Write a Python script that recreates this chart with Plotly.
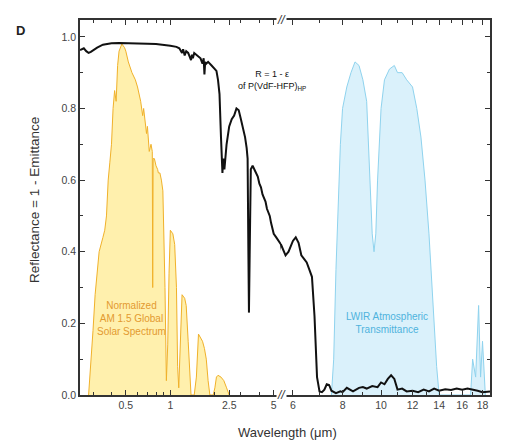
import numpy as np
import plotly.graph_objects as go

# ---------------- data ----------------
# Reflectance (R = 1 - emittance) of P(VdF-HFP)HP coating
refl_wl = [0.245, 0.25, 0.26, 0.27, 0.28, 0.29, 0.30, 0.32, 0.35, 0.40, 0.45, 0.5, 0.6, 0.7, 0.8, 0.9,
           1.0, 1.1, 1.15, 1.2, 1.22, 1.25, 1.28, 1.32, 1.38, 1.40, 1.42, 1.45, 1.5, 1.55, 1.6, 1.65,
           1.68, 1.7, 1.72, 1.75, 1.8, 1.9, 1.95, 2.0, 2.05, 2.1, 2.15, 2.2, 2.25, 2.28, 2.32, 2.4,
           2.5, 2.6, 2.7, 2.8, 2.9, 3.0, 3.1, 3.2, 3.28, 3.33, 3.37, 3.40, 3.44, 3.5, 3.6, 3.7, 3.8,
           3.9, 4.0, 4.1, 4.2, 4.3, 4.4, 4.5, 4.6, 4.7, 4.8, 4.9, 5.0, 5.2, 5.4, 5.6, 5.75, 5.85,
           6.0, 6.1, 6.2, 6.3, 6.4, 6.5, 6.6, 6.7, 6.8, 6.9, 7.0, 7.1, 7.2, 7.3, 7.4, 7.5, 7.7,
           7.9, 8.0, 8.2, 8.5, 8.8, 9.0, 9.2, 9.5, 9.8, 10.0, 10.2, 10.4, 10.6, 10.8, 11.0, 11.3,
           11.6, 12.0, 12.4, 12.8, 13.2, 13.6, 14.0, 14.5, 15.0, 15.5, 16.0, 16.5, 17.0, 17.5,
           18.0, 18.8]
refl_val = [0.963, 0.965, 0.968, 0.96, 0.955, 0.958, 0.962, 0.97, 0.978, 0.982, 0.983, 0.983, 0.982,
            0.981, 0.98, 0.978, 0.975, 0.972, 0.968, 0.955, 0.965, 0.948, 0.96, 0.955, 0.935, 0.95,
            0.94, 0.955, 0.95, 0.945, 0.94, 0.925, 0.94, 0.895, 0.93, 0.925, 0.93, 0.92, 0.915, 0.91,
            0.905, 0.88, 0.84, 0.72, 0.62, 0.66, 0.63, 0.70, 0.75, 0.77, 0.78, 0.80, 0.795, 0.77,
            0.745, 0.72, 0.69, 0.66, 0.40, 0.23, 0.40, 0.63, 0.64, 0.63, 0.62, 0.61, 0.59, 0.58,
            0.56, 0.55, 0.54, 0.52, 0.51, 0.50, 0.48, 0.46, 0.45, 0.44, 0.43, 0.42, 0.39, 0.40,
            0.43, 0.44, 0.425, 0.39, 0.38, 0.37, 0.35, 0.33, 0.22, 0.05, 0.01, 0.008, 0.015, 0.03,
            0.028, 0.012, 0.005, 0.01, 0.008, 0.02, 0.01, 0.02, 0.022, 0.018, 0.025, 0.022, 0.035,
            0.03, 0.045, 0.055, 0.045, 0.015, 0.018, 0.01, 0.012, 0.008, 0.015, 0.01, 0.018, 0.012,
            0.016, 0.014, 0.018, 0.015, 0.018, 0.016, 0.012, 0.008, 0.01]

# Normalized AM 1.5 Global solar spectrum
solar_wl = [0.28, 0.29, 0.30, 0.31, 0.32, 0.33, 0.35, 0.36, 0.37, 0.38, 0.39, 0.40, 0.41, 0.42, 0.43,
            0.44, 0.45, 0.47, 0.49, 0.50, 0.52, 0.55, 0.58, 0.60, 0.63, 0.65, 0.66, 0.69, 0.70, 0.72,
            0.74, 0.755, 0.76, 0.765, 0.78, 0.80, 0.82, 0.83, 0.85, 0.87, 0.89, 0.90, 0.92, 0.94,
            0.96, 0.98, 1.0, 1.04, 1.07, 1.10, 1.12, 1.14, 1.16, 1.20, 1.25, 1.28, 1.32, 1.35, 1.38,
            1.45, 1.5, 1.55, 1.6, 1.65, 1.7, 1.75, 1.8, 1.85, 1.95, 2.0, 2.05, 2.1, 2.2, 2.3, 2.4, 2.5]
solar_val = [0.0, 0.08, 0.18, 0.28, 0.35, 0.40, 0.44, 0.46, 0.50, 0.60, 0.65, 0.70, 0.80, 0.85, 0.82,
             0.92, 0.96, 0.98, 0.97, 0.96, 0.93, 0.90, 0.88, 0.86, 0.82, 0.78, 0.80, 0.73, 0.75, 0.68,
             0.70, 0.68, 0.30, 0.66, 0.66, 0.64, 0.63, 0.62, 0.62, 0.60, 0.57, 0.50, 0.30, 0.04,
             0.14, 0.34, 0.46, 0.45, 0.42, 0.30, 0.08, 0.02, 0.10, 0.28, 0.27, 0.25, 0.15, 0.05,
             0.0, 0.0, 0.05, 0.17, 0.16, 0.15, 0.13, 0.10, 0.04, 0.0, 0.0, 0.02, 0.05, 0.055, 0.05,
             0.04, 0.02, 0.0]

# LWIR atmospheric transmittance
atm_wl = [7.5, 7.6, 7.7, 7.8, 7.9, 8.0, 8.2, 8.4, 8.6, 8.8, 9.0, 9.2, 9.4, 9.5, 9.6, 9.7, 9.8, 10.0,
          10.2, 10.5, 10.8, 11.0, 11.3, 11.6, 12.0, 12.3, 12.6, 12.9, 13.2, 13.5, 13.8, 14.0,
          16.8, 17.0, 17.3, 17.6, 17.8, 18.0, 18.3]
atm_val = [0.0, 0.1, 0.35, 0.55, 0.7, 0.8, 0.86, 0.9, 0.93, 0.92, 0.88, 0.82, 0.6, 0.45, 0.4, 0.45,
           0.6, 0.8, 0.88, 0.91, 0.92, 0.9, 0.9, 0.88, 0.86, 0.8, 0.72, 0.6, 0.45, 0.25, 0.08, 0.0,
           0.0, 0.1, 0.05, 0.25, 0.05, 0.15, 0.0]

seg1_ticks = [0.5, 1, 2.5, 5]
seg1_minor = [0.3, 0.4, 0.6, 0.7, 0.8, 0.9, 2, 3, 4]
seg2_ticks = [6, 8, 10, 12, 14, 16, 18]
seg2_minor = [7, 9, 11, 13, 15, 17]
y_ticks = [0.0, 0.2, 0.4, 0.6, 0.8, 1.0]

# ---------------- figure ----------------
W, H = 513, 440
ML, MR, MT, MB = 80, 23, 20, 45
PW, PH = W - ML - MR, H - MT - MB
BREAK_PX = 281
d = (BREAK_PX - ML) / PW

def px(x):
    return (x - ML) / PW

def py(y):
    return (H - MB - y) / PH

FONT = "Arial, Liberation Sans, sans-serif"

fig = go.Figure()

for xa, ya in (("x", "y"), ("x2", "y2")):
    fig.add_trace(go.Scatter(x=solar_wl, y=solar_val, mode="lines", xaxis=xa, yaxis=ya,
                             line=dict(color="#f0b12a", width=1), fill="tozeroy",
                             fillcolor="#fff0ad", showlegend=False, hoverinfo="skip"))
    fig.add_trace(go.Scatter(x=atm_wl, y=atm_val, mode="lines", xaxis=xa, yaxis=ya,
                             line=dict(color="#8fd3ee", width=1), fill="tozeroy",
                             fillcolor="#daf1fb", showlegend=False, hoverinfo="skip"))
    fig.add_trace(go.Scatter(x=refl_wl, y=refl_val, mode="lines", xaxis=xa, yaxis=ya,
                             line=dict(color="#111111", width=2), showlegend=False,
                             hoverinfo="skip"))

tickfont = dict(family=FONT, size=10.5, color="#444")
axis_common = dict(type="log", showline=True, linecolor="#333", linewidth=1.5, ticks="inside",
                   ticklen=5, tickcolor="#333", tickwidth=1, showgrid=False, zeroline=False,
                   tickfont=tickfont, mirror="ticks")

fig.update_layout(
    width=W, height=H, margin=dict(l=ML, r=MR, t=MT, b=MB),
    paper_bgcolor="white", plot_bgcolor="white",
    xaxis=dict(domain=[0, d], range=[np.log10(0.245), np.log10(5.6)], anchor="y",
               tickvals=seg1_ticks, ticktext=[str(v) for v in seg1_ticks],
               minor=dict(tickvals=seg1_minor, ticks="inside", ticklen=3, tickcolor="#333"),
               **axis_common),
    xaxis2=dict(domain=[d, 1], range=[np.log10(5.6), np.log10(18.8)], anchor="y2",
                tickvals=seg2_ticks, ticktext=[str(v) for v in seg2_ticks],
                minor=dict(tickvals=seg2_minor, ticks="inside", ticklen=3, tickcolor="#333"),
                **axis_common),
    yaxis=dict(range=[0, 1.047], anchor="x", tickvals=y_ticks,
               ticktext=[f"{v:.1f}" for v in y_ticks], showline=True, linecolor="#333",
               linewidth=1.5, ticks="inside", ticklen=5, tickcolor="#333", showgrid=False,
               zeroline=False, tickfont=tickfont,
               minor=dict(dtick=0.1, ticks="inside", ticklen=3, tickcolor="#333")),
    yaxis2=dict(range=[0, 1.047], anchor="x2", side="right", matches="y",
                showticklabels=False, showline=True, linecolor="#333", linewidth=1.5,
                ticks="inside", ticklen=5, tickcolor="#333", tickvals=y_ticks, showgrid=False,
                zeroline=False, minor=dict(dtick=0.1, ticks="inside", ticklen=3,
                                           tickcolor="#333")),
)

def note(x, y, text, size, color, angle=0):
    return dict(x=px(x), y=py(y), xref="paper", yref="paper", text=text, textangle=angle,
                xanchor="center", yanchor="middle", showarrow=False,
                font=dict(family=FONT, size=size, color=color))

ann = [
    note(34, 200, "Reflectance = 1 - Emittance", 13.5, "#333", -90),
    note(287, 432, "Wavelength (μm)", 13, "#333"),
    note(20, 31, "<b>D</b>", 13, "#222"),
    note(272, 80, "R = 1 - ε<br>of P(VdF-HFP)<sub>HP</sub>", 9, "#111"),
    note(131, 318, "Normalized<br>AM 1.5 Global<br>Solar Spectrum", 10, "#e39a30"),
    note(387, 323, "LWIR Atmospheric<br>Transmittance", 10, "#4fb3dd"),
]
for yy in (20, 395):
    a = note(BREAK_PX, yy, "<i>//</i>", 12, "#333")
    a.update(bgcolor="white", borderpad=0)
    ann.append(a)
fig.update_layout(annotations=ann)

fig.write_html("out.html", config={"displayModeBar": False},
               post_script="document.body.style.margin='0px';")
